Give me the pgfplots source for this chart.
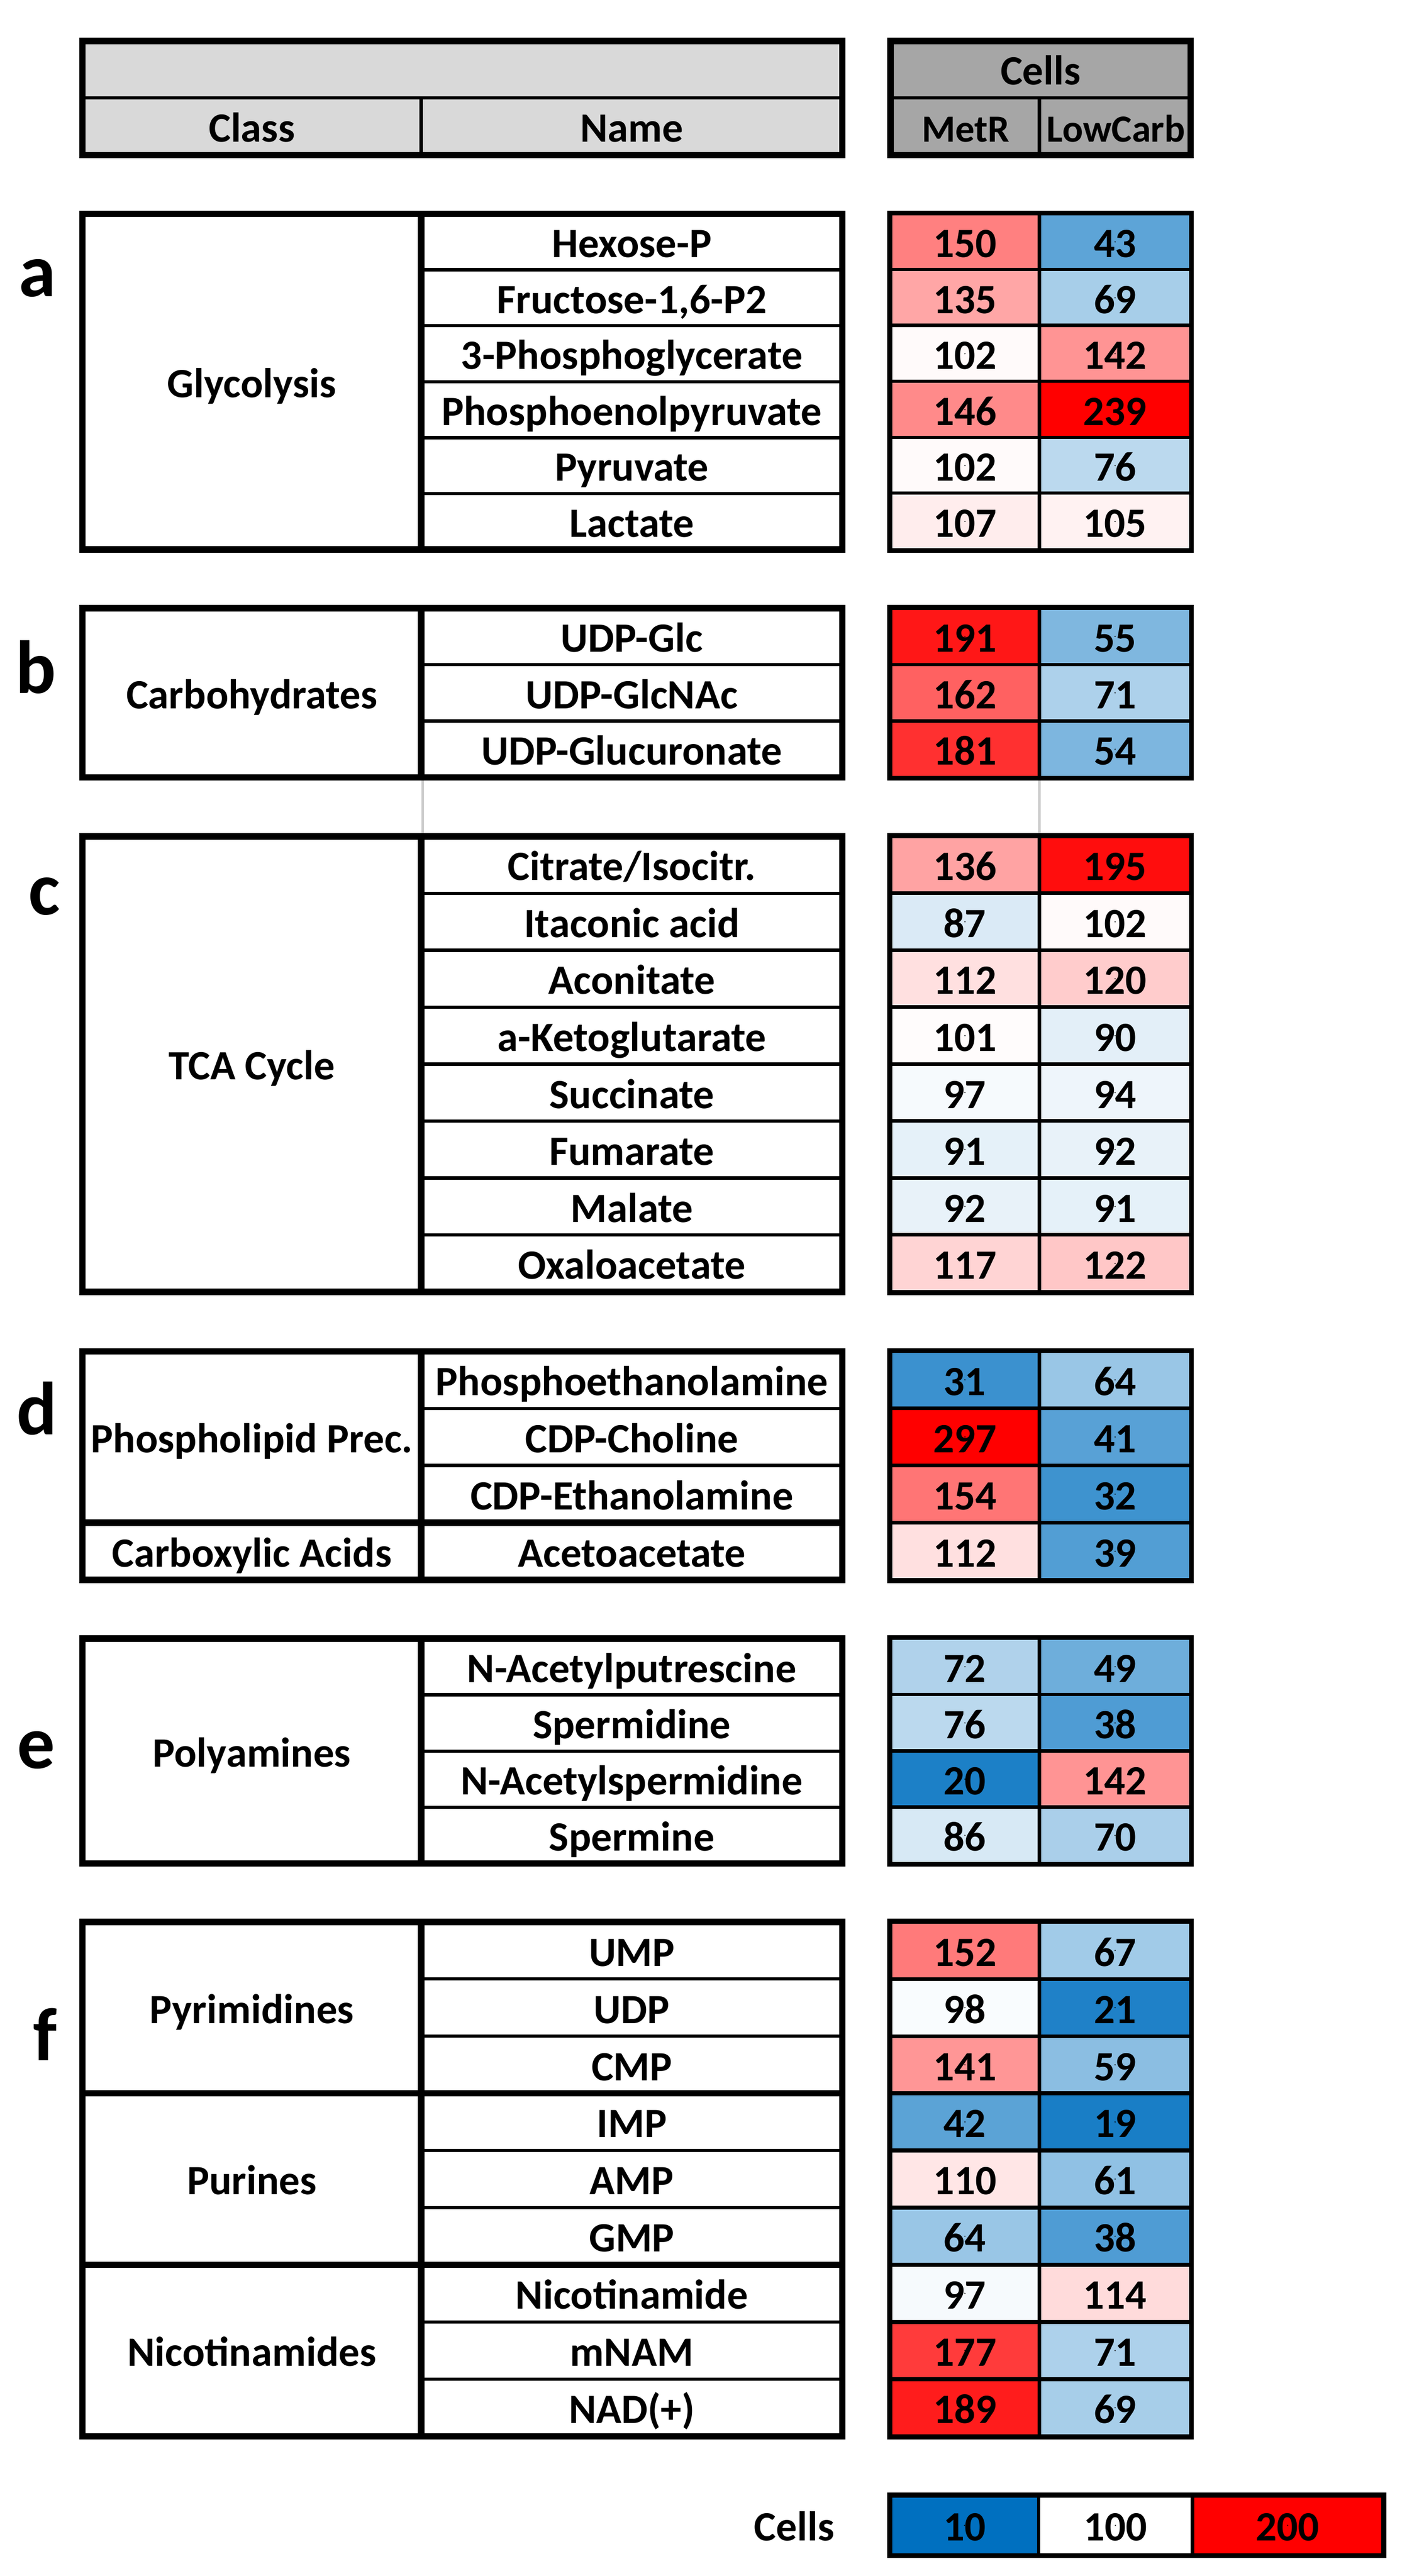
\documentclass[border=0pt]{standalone}
\usepackage{fontspec}
\setmainfont{Carlito}
\usepackage{pgfplots}
\pgfplotsset{compat=1.18}
\usepackage{pgfplotstable}

\definecolor{hdrlight}{HTML}{D9D9D9}
\definecolor{hdrdark}{HTML}{A6A6A6}

% row centre (in pt, top down), MetR and LowCarb values
\pgfplotstableread{
y        MetR  LowCarb
147.85   150   43
182.05   135   69
216.25   102   142
250.45   146   239
284.65   102   76
318.85   107   105
389.10   191   55
423.60   162   71
458.10   181   54
528.76   136   195
563.57   87    102
598.38   112   120
633.19   101   90
668.01   97    94
702.82   91    92
737.63   92    91
772.44   117   122
843.63   31    64
878.58   297   41
913.53   154   32
948.48   112   39
1019.04  72    49
1053.42  76    38
1087.79  20    142
1122.17  86    70
1192.52  152   67
1227.47  98    21
1262.41  141   59
1297.36  42    19
1332.30  110   61
1367.25  64    38
1402.19  97    114
1437.14  177   71
1472.08  189   69
}\cells

\tikzset{
  txt/.style={font=\fontsize{25.5}{30}\selectfont\bfseries, text height=16.1pt,
    text depth=0pt, inner sep=0pt, anchor=center, yshift=-1.5pt},
  thick line/.style={line width=3.9pt},
  thin line/.style={line width=2pt},
  panel/.style={font=\fontsize{46}{50}\selectfont\bfseries, inner sep=0pt, anchor=center},
}
\pgfplotsset{
  % coloured cells: half width, height/width
  cellplot/.style 2 args={scatter, only marks, mark=square*, mark size=#1,
    mark options={yscale=#2, line width=2pt},
    point meta=explicit,
    scatter/use mapped color={draw=black, fill=mapped color}},
  % the numbers in the cells
  vals/.style={only marks, mark=*, mark size=0.1pt,
    mark options={draw=none, fill=none},
    point meta=explicit, nodes near coords,
    every node near coord/.append style={txt, text=black}},
}

% frames of one block: top, bottom
\newcommand\boxes[2]{%
  \draw[thick line] (axis cs:50.45,#1) rectangle (axis cs:515.05,#2);
  \draw[thick line] (axis cs:257.5,#1) -- (axis cs:257.5,#2);
  \draw[thick line] (axis cs:544.45,#1) rectangle (axis cs:728.05,#2);
}
\newcommand\rowlines[1]{%
  \pgfplotsinvokeforeach{#1}{\draw[thin line] (axis cs:257.5,##1) -- (axis cs:515.05,##1);}}
\newcommand\classline[1]{%
  \draw[thick line] (axis cs:50.45,#1) -- (axis cs:515.05,#1);
  \draw[thick line] (axis cs:544.45,#1) -- (axis cs:728.05,#1);}
\newcommand\cls[2]{\node[txt] at (axis cs:154,#1) {#2};}
\newcommand\nm[2]{\node[txt] at (axis cs:386.3,#1) {#2};}

\begin{document}
\begin{tikzpicture}
\begin{axis}[
  x=1pt, y=1pt, y dir=reverse,
  xmin=0, xmax=860, ymin=0, ymax=1575,
  hide axis, clip=false,
  /pgf/number format/assume math mode=true,
  colormap={bwr}{rgb255(0cm)=(0,112,192) rgb255(0.9cm)=(255,255,255) rgb255(1.9cm)=(255,0,0)},
  point meta min=10, point meta max=200,
]
% heat cells
\addplot[cellplot={45.525pt}{0.38}] table[x expr=589.98, y=y, meta=MetR] {\cells};
\addplot[cellplot={46.275pt}{0.3739}] table[x expr=681.78, y=y, meta=LowCarb] {\cells};
\addplot[vals] table[x expr=589.98, y=y, meta=MetR] {\cells};
\addplot[vals] table[x expr=681.78, y=y, meta=LowCarb] {\cells};
% colour key
\addplot[cellplot={45.275pt}{0.3987}] coordinates {(589.7,1544) [10]};
\addplot[cellplot={47pt}{0.384}] coordinates {(682,1544) [100]};
\addplot[cellplot={58.275pt}{0.3097}] coordinates {(787.3,1544) [200]};
\addplot[vals] coordinates {(589.7,1544) [10] (682,1544) [100] (787.3,1544) [200]};

% header
\filldraw[fill=hdrlight, thick line] (axis cs:50.45,25.05) rectangle (axis cs:515.05,94.85);
\draw[thin line] (axis cs:50.45,59.8) -- (axis cs:515.05,59.8);
\draw[thin line] (axis cs:257.5,59.8) -- (axis cs:257.5,94.85);
\filldraw[fill=hdrdark, thick line] (axis cs:544.45,25.05) rectangle (axis cs:728.05,94.85);
\draw[thin line] (axis cs:544.45,59.8) -- (axis cs:728.05,59.8);
\draw[thin line] (axis cs:635.5,59.8) -- (axis cs:635.5,94.85);
\node[txt] at (axis cs:154,77.3) {Class};
\node[txt] at (axis cs:386.3,77.3) {Name};
\node[txt] at (axis cs:636.25,42.4) {Cells};
\node[txt, font=\fontsize{23.5}{28}\selectfont\bfseries] at (axis cs:590.5,77.3) {MetR};
\node[txt, font=\fontsize{23.5}{28}\selectfont\bfseries] at (axis cs:682.3,77.3) {LowCarb};

% a
\rowlines{164.95,199.15,233.35,267.55,301.75}
\boxes{130.75}{335.95}
\cls{233.35}{Glycolysis}
\nm{147.85}{Hexose-P}
\nm{182.05}{Fructose-1,6-P2}
\nm{216.25}{3-Phosphoglycerate}
\nm{250.45}{Phosphoenolpyruvate}
\nm{284.65}{Pyruvate}
\nm{318.85}{Lactate}

% b
\rowlines{406.35,440.85}
\boxes{371.85}{475.35}
\cls{423.6}{Carbohydrates}
\nm{389.10}{UDP-Glc}
\nm{423.60}{UDP-GlcNAc}
\nm{458.10}{UDP-Glucuronate}

\draw[gray!40, line width=1.5pt] (axis cs:258.5,477.3) -- (axis cs:258.5,509.4);
\draw[gray!40, line width=1.5pt] (axis cs:635.5,477.3) -- (axis cs:635.5,509.4);

% c
\rowlines{546.16,580.98,615.79,650.60,685.41,720.23,755.04}
\boxes{511.35}{789.85}
\cls{650.6}{TCA Cycle}
\nm{528.76}{Citrate/Isocitr.}
\nm{563.57}{Itaconic acid}
\nm{598.38}{Aconitate}
\nm{633.19}{a-Ketoglutarate}
\nm{668.01}{Succinate}
\nm{702.82}{Fumarate}
\nm{737.63}{Malate}
\nm{772.44}{Oxaloacetate}

% d
\rowlines{861.10,896.05}
\classline{931.0}
\boxes{826.15}{965.95}
\cls{878.58}{Phospholipid Prec.}
\cls{948.48}{Carboxylic Acids}
\nm{843.63}{Phosphoethanolamine}
\nm{878.58}{CDP-Choline}
\nm{913.53}{CDP-Ethanolamine}
\nm{948.48}{Acetoacetate}

% e
\rowlines{1036.23,1070.60,1104.98}
\boxes{1001.85}{1139.35}
\cls{1070.6}{Polyamines}
\nm{1019.04}{N-Acetylputrescine}
\nm{1053.42}{Spermidine}
\nm{1087.79}{N-Acetylspermidine}
\nm{1122.17}{Spermine}

% f
\rowlines{1209.99,1244.94,1314.83,1349.77,1419.66,1454.61}
\classline{1279.88}
\classline{1384.72}
\boxes{1175.05}{1489.55}
\cls{1227.47}{Pyrimidines}
\cls{1332.30}{Purines}
\cls{1437.14}{Nicotinamides}
\nm{1192.52}{UMP}
\nm{1227.47}{UDP}
\nm{1262.41}{CMP}
\nm{1297.36}{IMP}
\nm{1332.30}{AMP}
\nm{1367.25}{GMP}
\nm{1402.19}{Nicotinamide}
\nm{1437.14}{mNAM}
\nm{1472.08}{NAD(+)}

% key frame
\draw[thick line] (axis cs:544.45,1525.95) rectangle (axis cs:845.55,1562.05);
\node[txt] at (axis cs:485.6,1544) {Cells};

% panel letters
\node[panel] at (axis cs:23,170) {a};
\node[panel] at (axis cs:22,408) {b};
\node[panel] at (axis cs:27,548) {c};
\node[panel] at (axis cs:22.5,861) {d};
\node[panel] at (axis cs:22,1070) {e};
\node[panel] at (axis cs:27.6,1244) {f};
\end{axis}
\pgfresetboundingbox
\path[use as bounding box] (current axis.south west) rectangle (current axis.north east);
\end{tikzpicture}
\end{document}
